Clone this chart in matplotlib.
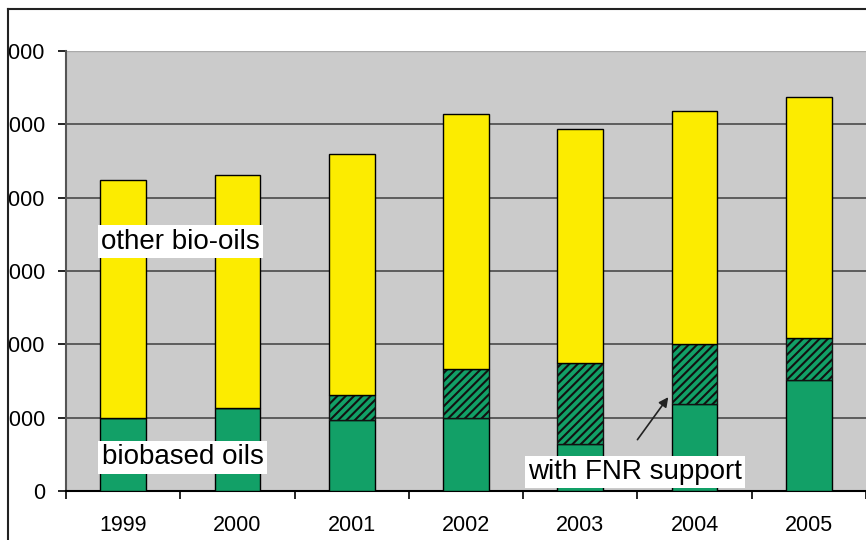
import matplotlib
matplotlib.use("Agg")
import matplotlib.pyplot as plt
from matplotlib.patches import Rectangle
from matplotlib.lines import Line2D
import numpy as np

# values (same units as the y axis)
years = ["1999", "2000", "2001", "2002", "2003", "2004", "2005"]
biobased = [990, 1130, 970, 1000, 640, 1190, 1520]
fnr_support = [0, 0, 340, 660, 1110, 810, 560]
other_oils = [3250, 3180, 3280, 3480, 3180, 3180, 3290]
yticks = [0, 1000, 2000, 3000, 4000, 5000, 6000]

plt.rcParams["font.family"] = ["Liberation Sans", "DejaVu Sans"]
plt.rcParams["hatch.linewidth"] = 1.5

W, H = 866, 540
fig = plt.figure(figsize=(W / 100, H / 100), dpi=100)
ax = fig.add_axes([66 / W, 49 / H, 800 / W, 440 / H])
ax.set_facecolor("#cbcbcb")

x = np.arange(len(years))
green = "#12a067"
yellow = "#fcec00"
bw = 0.4

ax.bar(x, biobased, bw, color=green, edgecolor="black", linewidth=1, zorder=3)
ax.bar(x, fnr_support, bw, bottom=biobased, color=green, edgecolor="#111111",
       hatch="////", linewidth=1, zorder=3)
bottom2 = np.array(biobased) + np.array(fnr_support)
ax.bar(x, other_oils, bw, bottom=bottom2, color=yellow, edgecolor="black",
       linewidth=1, zorder=3)

ax.set_xlim(-0.5, len(years) - 0.5)
ax.set_ylim(0, 6000)
ax.set_yticks(yticks)
ax.set_yticklabels([str(v) for v in yticks])
ax.yaxis.grid(True, color="#4a4a4a", linewidth=1.2, zorder=1)
ax.set_axisbelow(True)

ax.set_xticks(x)
ax.set_xticklabels(years)
ax.set_xticks(np.arange(len(years) + 1) - 0.5, minor=True)
ax.tick_params(axis="x", which="major", length=0, pad=17, labelsize=15.5)
ax.tick_params(axis="x", which="minor", length=6, width=1.2, direction="out")
ax.tick_params(axis="y", length=6, width=1.2, pad=9, labelsize=15.5)

for s in ["top", "right"]:
    ax.spines[s].set_visible(False)
ax.spines["left"].set_color("#555555")
ax.spines["left"].set_linewidth(1.5)
ax.spines["bottom"].set_color("black")
ax.spines["bottom"].set_linewidth(1.5)
ax.axhline(6000, color="#aaaaaa", linewidth=1, zorder=2)

box = dict(boxstyle="square,pad=0.12", facecolor="white", edgecolor="none")
ax.text(0.5, 3400, "other bio-oils", fontsize=20, ha="center", va="center",
        bbox=box, zorder=5)
ax.text(0.52, 460, "biobased oils", fontsize=20, ha="center", va="center",
        bbox=box, zorder=5)
ax.text(4.48, 260, "with FNR support", fontsize=20, ha="center", va="center",
        bbox=box, zorder=5)
ax.annotate("", xy=(4.77, 1280), xytext=(4.5, 700),
            arrowprops=dict(arrowstyle="-|>", color="#222222", lw=1.2,
                            mutation_scale=14, shrinkA=0, shrinkB=0),
            zorder=6)

# outer frame of the cropped chart, hiding the cut-off label digits
fig.add_artist(Rectangle((0, 0), 8 / W, 1, transform=fig.transFigure,
                         facecolor="white", edgecolor="none", zorder=10))
fig.add_artist(Rectangle((0, 1 - 9 / H), 1, 9 / H, transform=fig.transFigure,
                         facecolor="white", edgecolor="none", zorder=10))
fig.add_artist(Line2D([8 / W, 8 / W], [0, 1 - 9 / H], transform=fig.transFigure,
                      color="#222222", linewidth=1.5, zorder=11))
fig.add_artist(Line2D([8 / W, 1], [1 - 9 / H, 1 - 9 / H], transform=fig.transFigure,
                      color="#222222", linewidth=1.5, zorder=11))

fig.savefig("out.png", dpi=100)
